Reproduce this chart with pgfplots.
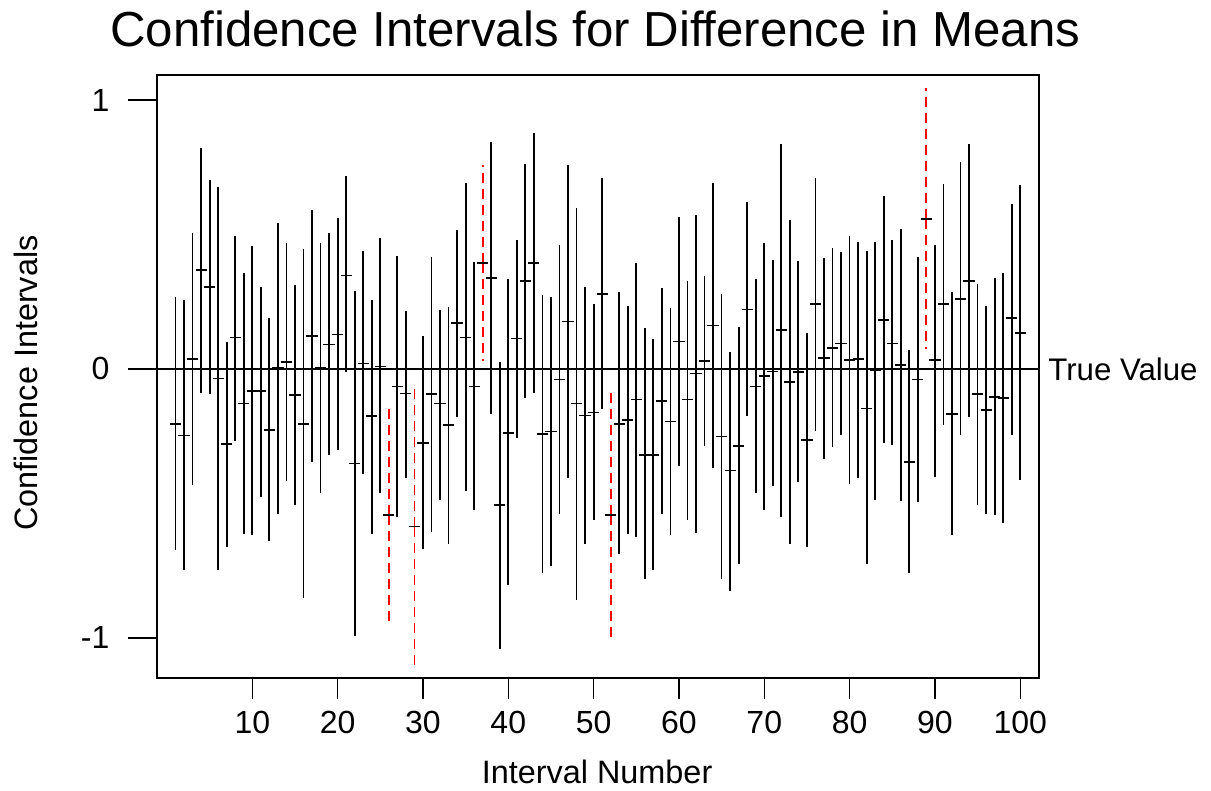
\documentclass[border=0pt]{standalone}
\usepackage{pgfplots}
\pgfplotsset{compat=1.18}
\usepackage{pgfplotstable}
\usepackage{fontspec}
\setmainfont{Liberation Sans}

% intervals that cover the true value
\pgfplotstableread{
x lo hi c
1 -0.674 0.268 -0.205
2 -0.749 0.257 -0.247
3 -0.431 0.505 0.036
4 -0.088 0.822 0.369
5 -0.092 0.704 0.306
6 -0.749 0.677 -0.035
7 -0.662 0.102 -0.280
8 -0.266 0.495 0.117
9 -0.615 0.355 -0.128
10 -0.619 0.456 -0.081
11 -0.475 0.304 -0.081
12 -0.641 0.189 -0.227
13 -0.540 0.541 0.004
14 -0.417 0.468 0.027
15 -0.506 0.313 -0.097
16 -0.850 0.446 -0.205
17 -0.345 0.590 0.123
18 -0.460 0.468 0.004
19 -0.319 0.504 0.091
20 -0.302 0.560 0.128
21 -0.013 0.716 0.348
22 -0.991 0.290 -0.351
23 -0.391 0.437 0.020
24 -0.615 0.257 -0.176
25 -0.463 0.488 0.009
27 -0.550 0.420 -0.065
28 -0.405 0.215 -0.091
30 -0.670 0.124 -0.276
31 -0.605 0.417 -0.092
32 -0.486 0.221 -0.128
33 -0.652 0.232 -0.209
34 -0.179 0.517 0.170
35 -0.453 0.691 0.117
36 -0.524 0.398 -0.065
38 -0.169 0.844 0.338
39 -1.040 0.027 -0.506
40 -0.802 0.333 -0.237
41 -0.255 0.478 0.113
42 -0.108 0.763 0.328
43 -0.088 0.876 0.394
44 -0.760 0.276 -0.242
45 -0.732 0.267 -0.232
46 -0.540 0.460 -0.039
47 -0.405 0.758 0.176
48 -0.860 0.597 -0.128
49 -0.651 0.304 -0.173
50 -0.561 0.241 -0.162
51 -0.150 0.709 0.279
53 -0.688 0.286 -0.205
54 -0.615 0.235 -0.189
55 -0.626 0.394 -0.114
56 -0.781 0.152 -0.319
57 -0.749 0.113 -0.319
58 -0.540 0.302 -0.118
59 -0.619 0.225 -0.195
60 -0.362 0.564 0.102
61 -0.561 0.326 -0.114
62 -0.609 0.574 -0.017
63 -0.287 0.345 0.029
64 -0.368 0.691 0.162
65 -0.781 0.278 -0.251
66 -0.824 0.063 -0.377
67 -0.727 0.157 -0.287
68 -0.175 0.619 0.221
69 -0.460 0.333 -0.065
70 -0.524 0.468 -0.027
71 -0.436 0.405 -0.009
72 -0.550 0.838 0.144
73 -0.651 0.553 -0.049
74 -0.421 0.403 -0.010
75 -0.662 0.134 -0.264
76 -0.229 0.709 0.241
77 -0.333 0.413 0.042
78 -0.290 0.449 0.079
79 -0.245 0.434 0.095
80 -0.426 0.495 0.033
81 -0.405 0.473 0.036
82 -0.727 0.440 -0.147
83 -0.486 0.473 -0.006
84 -0.277 0.644 0.182
85 -0.281 0.478 0.095
86 -0.492 0.521 0.014
87 -0.760 0.071 -0.345
88 -0.496 0.418 -0.039
90 -0.400 0.460 0.033
91 -0.208 0.687 0.241
92 -0.619 0.286 -0.167
93 -0.247 0.768 0.261
94 -0.179 0.838 0.326
95 -0.506 0.317 -0.092
96 -0.540 0.235 -0.152
97 -0.544 0.338 -0.104
98 -0.573 0.355 -0.108
99 -0.247 0.613 0.189
100 -0.414 0.683 0.134
}\hitdata

% intervals that miss it
\pgfplotstableread{
x lo hi c
26 -0.944 -0.146 -0.544
29 -1.117 -0.056 -0.586
37 0.030 0.759 0.394
52 -1.009 -0.075 -0.543
89 0.074 1.043 0.558
}\missdata

\begin{document}
\begin{tikzpicture}
\begin{axis}[
    width=441pt, height=301.5pt, scale only axis,
    xmin=-1.17, xmax=102.2, ymin=-1.149, ymax=1.093,
    xtick={10,20,...,100}, ytick={-1,0,1},
    minor tick num=0,
    xtick pos=bottom, ytick pos=left,
    tick align=outside,
    xtick style={black, line width=0.6pt, /pgfplots/major tick length=10.5pt},
    ytick style={black, line width=0.6pt, /pgfplots/major tick length=14.5pt},
    axis line style={line width=0.75pt},
    /pgf/number format/assume math mode=true,
    tick label style={font=\fontsize{16}{19}\selectfont},
    yticklabel style={xshift=-16pt},
    xticklabel style={yshift=-9pt},
    label style={font=\fontsize{16.2}{19}\selectfont},
    xlabel={Interval Number},
    ylabel={Confidence Intervals},
    xlabel style={at={(axis description cs:0.499,-0.156)}, anchor=center},
    ylabel style={at={(axis description cs:-0.1485,0.489)}, anchor=center},
    clip=false,
  ]
  \node[anchor=base, yshift=14pt, font=\fontsize{24.6}{29}\selectfont]
    at (axis description cs:0.497,1) {Confidence Intervals for Difference in Means};
  \draw[line width=0.75pt] (axis cs:-1.17,0) -- (axis cs:102.2,0)
    node[right, xshift=1pt, font=\fontsize{15.6}{19}\selectfont] {True Value};
  \addplot[black, only marks, mark=-, mark size=2.8pt, mark options={line width=0.85pt},
    error bars/.cd, y dir=both, y explicit, error mark=none,
    error bar style={line width=0.9pt}]
    table[x=x, y=c, y error plus expr=\thisrow{hi}-\thisrow{c},
          y error minus expr=\thisrow{c}-\thisrow{lo}] {\hitdata};
  \addplot[black, only marks, mark=-, mark size=2.8pt, mark options={line width=0.85pt},
    error bars/.cd, y dir=both, y explicit, error mark=none,
    error bar style={red, line width=0.9pt, dash pattern=on 5pt off 3pt}]
    table[x=x, y=c, y error plus expr=\thisrow{hi}-\thisrow{c},
          y error minus expr=\thisrow{c}-\thisrow{lo}] {\missdata};
\end{axis}
\pgfresetboundingbox
\path[use as bounding box] (-78.5pt,-56.5pt) rectangle (527pt,339pt);
\end{tikzpicture}
\end{document}
